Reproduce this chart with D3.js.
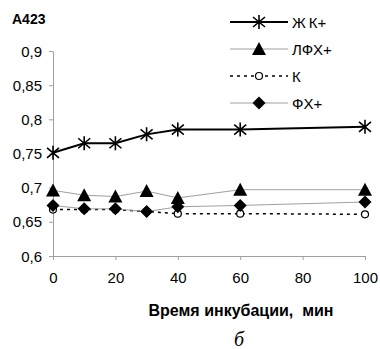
<!DOCTYPE html>
<html>
<head>
<meta charset="utf-8">
<script src="https://cdn.jsdelivr.net/npm/d3@7"></script>
<style>
  html, body { margin: 0; padding: 0; background: #fff; overflow: hidden; }
  svg { display: block; }
  text { font-family: Arial, "Liberation Sans", sans-serif; fill: #000; }
</style>
</head>
<body>
<svg width="380" height="349"></svg>
<script>
const times = [0, 10, 20, 30, 40, 60, 100];
const zhk = [0.751, 0.765, 0.765, 0.778, 0.785, 0.785, 0.789];
const lfh = [0.696, 0.689, 0.687, 0.695, 0.685, 0.697, 0.697];
const kk = [0.668, 0.668, 0.668, 0.665, 0.662, 0.662, 0.661];
const fh = [0.674, 0.669, 0.669, 0.665, 0.672, 0.674, 0.679];
const seriesNames = ['Ж\u2009К+', 'ЛФХ+', 'К', 'ФХ+'];
const xTicks = [0, 20, 40, 60, 80, 100];
const yTicks = [0.6, 0.65, 0.7, 0.75, 0.8, 0.85, 0.9];

const svg = d3.select('svg');
const margin = { top: 51, left: 53, right: 15, bottom: 93 };
const width = +svg.attr('width');
const height = +svg.attr('height');
const innerWidth = width - margin.left - margin.right;
const innerHeight = height - margin.top - margin.bottom;

const xScale = d3.scaleLinear().domain([0, 100]).range([0, innerWidth]);
const yScale = d3.scaleLinear().domain([0.6, 0.9]).range([innerHeight, 0]);

const g = svg.append('g')
    .attr('transform', `translate(${margin.left}, ${margin.top})`);

const fmt = d => String(+d.toFixed(2)).replace('.', ',');

const xAxisG = g.append('g')
    .attr('transform', `translate(0, ${innerHeight})`)
    .call(d3.axisBottom(xScale).tickValues(xTicks).tickSize(4).tickSizeOuter(0).tickPadding(12));
const yAxisG = g.append('g')
    .call(d3.axisLeft(yScale).tickValues(yTicks).tickFormat(fmt).tickSize(4).tickSizeOuter(0).tickPadding(7));

[xAxisG, yAxisG].forEach(a => {
    a.attr('font-size', null).attr('font-family', null).attr('fill', null);
    a.selectAll('.domain, line').attr('stroke', '#a0a0a0');
    a.selectAll('text')
        .attr('fill', '#000')
        .attr('font-size', 15)
        .attr('dy', null);
});
xAxisG.selectAll('text').attr('y', 27);
yAxisG.selectAll('text').attr('y', 5);

const series = [
    { name: seriesNames[0], values: zhk, stroke: '#000', width: 2, dash: null, marker: 'star' },
    { name: seriesNames[1], values: lfh, stroke: '#a0a0a0', width: 1, dash: null, marker: 'triangle' },
    { name: seriesNames[2], values: kk, stroke: '#000', width: 1.5, dash: '3,4', marker: 'circle' },
    { name: seriesNames[3], values: fh, stroke: '#a0a0a0', width: 1, dash: null, marker: 'diamond' }
];

const drawMarker = (sel, type) => {
    if (type === 'star') {
        sel.append('path')
            .attr('d', 'M0,-7V7M-6,-5L6,5M-6,5L6,-5')
            .attr('stroke', '#000').attr('stroke-width', 1.6).attr('fill', 'none');
    } else if (type === 'triangle') {
        sel.append('path').attr('d', 'M0,-7L7,6H-7Z').attr('fill', '#000');
    } else if (type === 'circle') {
        sel.append('circle').attr('r', 3.5).attr('fill', '#fff')
            .attr('stroke', '#000').attr('stroke-width', 1.2);
    } else {
        sel.append('path').attr('d', 'M0,-6.5L6.5,0L0,6.5L-6.5,0Z').attr('fill', '#000');
    }
};

const line = d3.line().x(d => xScale(d[0])).y(d => yScale(d[1]));

series.forEach(s => {
    const pts = times.map((t, i) => [t, s.values[i]]);
    g.append('path')
        .datum(pts)
        .attr('d', line)
        .attr('fill', 'none')
        .attr('stroke', s.stroke)
        .attr('stroke-width', s.width)
        .attr('stroke-dasharray', s.dash);
});

// circles go under the diamonds and triangles
[2, 3, 1, 0].forEach(k => {
    const s = series[k];
    times.forEach((t, i) => {
        const m = g.append('g')
            .attr('transform', `translate(${xScale(t)}, ${yScale(s.values[i])})`);
        drawMarker(m, s.marker);
    });
});

// legend
const legend = svg.append('g').attr('transform', 'translate(230, 22)');
series.forEach((s, i) => {
    const row = legend.append('g').attr('transform', `translate(0, ${i * 27})`);
    row.append('line')
        .attr('x1', 0).attr('x2', 58)
        .attr('stroke', s.stroke).attr('stroke-width', s.width)
        .attr('stroke-dasharray', s.dash);
    const m = row.append('g').attr('transform', 'translate(29, 0)');
    drawMarker(m, s.marker);
    row.append('text')
        .attr('x', 62).attr('y', 5.5)
        .style('font-size', '15px')
        .text(s.name);
});

svg.append('text')
    .attr('x', 12).attr('y', 24)
    .style('font-size', '14px').style('font-weight', 'bold')
    .text('A423');

svg.append('text')
    .attr('x', (149 + 333) / 2).attr('y', 316)
    .attr('text-anchor', 'middle')
    .style('font-size', '16px').style('font-weight', 'bold')
    .text('Время инкубации,\u00a0 мин');

svg.append('text')
    .attr('x', 239).attr('y', 346)
    .attr('text-anchor', 'middle')
    .style('font-family', '"Liberation Serif", "DejaVu Serif", serif')
    .style('font-style', 'italic')
    .style('font-size', '20px')
    .text('б');
</script>
</body>
</html>
